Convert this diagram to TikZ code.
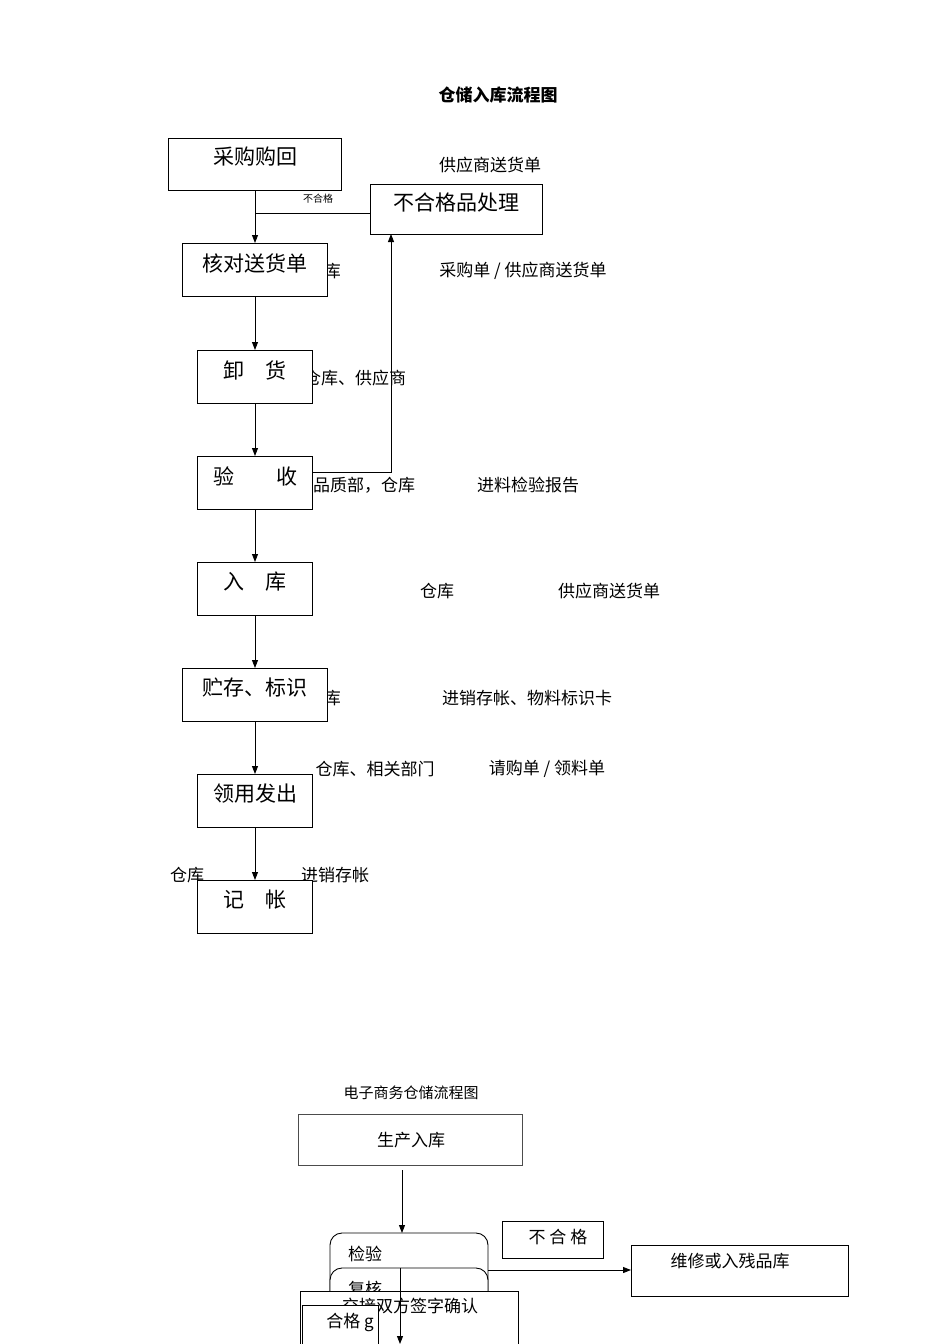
\documentclass[tikz,border=0pt]{standalone}
\usepackage{fontspec}
\setmainfont{Liberation Serif}
\newfontfamily\cjk{Noto Sans CJK SC}
\usetikzlibrary{arrows.meta}
\tikzset{
  bx/.style={draw,fill=white,line width=0.9pt},
  lbl/.style={font=\cjk\fontsize{17}{19}\selectfont,inner sep=0pt},
  bt/.style={font=\cjk\fontsize{21}{23}\selectfont,inner sep=0pt},
  ln/.style={line width=0.9pt},
  ar/.style={line width=0.9pt,-{Triangle[length=8pt,width=6pt]}}
}
\begin{document}
\begin{tikzpicture}[x=1pt,y=-1pt]
\useasboundingbox (0,0) rectangle (950,1344);
\node[font=\cjk\bfseries\fontsize{17}{19}\selectfont] (title) at (498,95) {仓储入库流程图};
% labels
\node[lbl] (l1) at (490,165) {供应商送货单};
\node[lbl,anchor=east] (l2) at (341,271) {仓库};
\node[lbl] (l3) at (523,271) {采购单 / 供应商送货单};
\node[lbl] (l4) at (355,378) {仓库、供应商};
\node[lbl] (l5) at (364,485) {品质部，仓库};
\node[lbl] (l6) at (528,485) {进料检验报告};
\node[lbl] (l7) at (437,591) {仓库};
\node[lbl] (l8) at (609,591) {供应商送货单};
\node[lbl,anchor=east] (l9) at (341,698) {仓库};
\node[lbl] (l10) at (527,698) {进销存帐、物料标识卡};
\node[lbl] (l11) at (375,769) {仓库、相关部门};
\node[lbl] (l12) at (547,769) {请购单 / 领料单};
\node[lbl] (l13) at (187,875) {仓库};
\node[lbl] (l14) at (335,875) {进销存帐};
\node[font=\cjk\fontsize{10}{12}\selectfont] (ng) at (318,199) {不合格};
% boxes
\draw[bx] (168,138) rectangle (341,190); \node[bt] (b1) at (255,157) {采购购回};
\draw[bx] (370,184) rectangle (542,234); \node[bt] (b2) at (456,202) {不合格品处理};
\draw[bx] (182,243) rectangle (327,296); \node[bt] (b3) at (255,263) {核对送货单};
\draw[bx] (197,350) rectangle (312,403); \node[bt] (b4) at (255,370) {卸\quad 货};
\draw[bx] (197,456) rectangle (312,509); \node[bt] (b5) at (255,476) {验\qquad 收};
\draw[bx] (197,562) rectangle (312,615); \node[bt] (b6) at (255,582) {入\quad 库};
\draw[bx] (182,668) rectangle (327,721); \node[bt] (b7) at (255,688) {贮存、标识};
\draw[bx] (197,774) rectangle (312,827); \node[bt] (b8) at (255,794) {领用发出};
\draw[bx] (197,880) rectangle (312,933); \node[bt] (b9) at (255,900) {记\quad 帐};
% connectors
\coordinate (j1) at (255,213);
\draw[ln] (370,213) -- (j1);
\draw[ar] (255,190) -- (255,243);
\draw[ar] (255,296) -- (255,350);
\draw[ar] (255,403) -- (255,456);
\draw[ar] (255,509) -- (255,562);
\draw[ar] (255,615) -- (255,668);
\draw[ar] (255,721) -- (255,774);
\draw[ar] (255,827) -- (255,880);
\draw[ar] (312,472) -- (391,472) -- (391,234);
% second diagram
\node[font=\cjk\fontsize{15}{17}\selectfont] (t2) at (411,1093) {电子商务仓储流程图};
\draw[line width=0.6pt,draw=black!70] (298,1114) rectangle (522,1165);
\node[lbl] (c1) at (411,1140) {生产入库};
\draw[ar] (402,1170) -- (402,1233);
\draw[ln,rounded corners=12pt] (330,1300) -- (330,1233) -- (488,1233) -- (488,1300);
\node[lbl] (c2) at (365,1254) {检验};
\draw[ln,fill=white,rounded corners=12pt] (330,1300) -- (330,1268) -- (488,1268) -- (488,1300);
\node[lbl] (c3) at (365,1289) {复核};
\draw[bx] (502,1221) rectangle (603,1258); \node[lbl] (c4) at (558,1237) {不 合 格};
\draw[bx] (631,1245) rectangle (848,1296); \node[lbl] (c5) at (730,1261) {维修或入残品库};
\draw[ar] (488,1270) -- (631,1270);
\draw[bx] (300,1291) rectangle (518,1350);
\node[lbl] (c6) at (410,1306) {交接双方签字确认};
\draw[bx] (302,1305) rectangle (378,1350);
\node[font=\cjk\fontsize{17}{19}\selectfont,inner sep=0pt] (c7) at (350,1322) {合格 g};
\draw[ar] (400,1268) -- (400,1344);
\end{tikzpicture}
\end{document}
